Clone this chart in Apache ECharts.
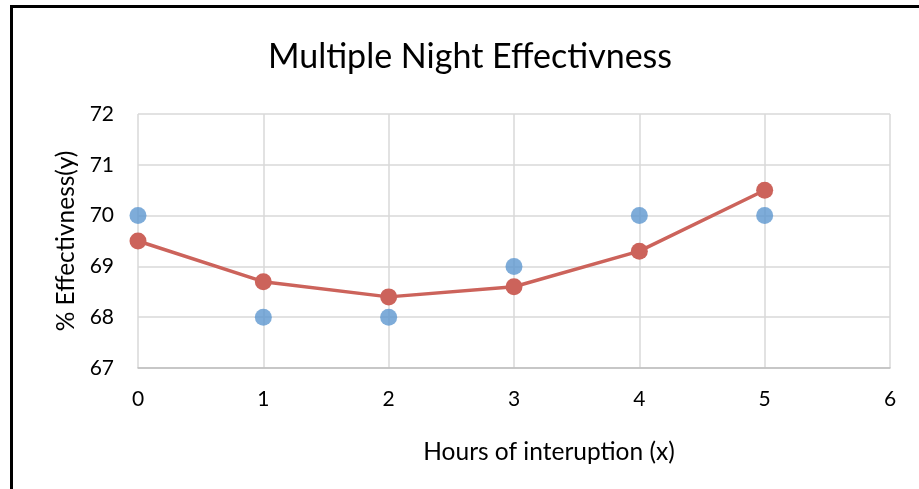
<!DOCTYPE html>
<html>
<head>
<meta charset="utf-8">
<script src="https://cdn.jsdelivr.net/npm/echarts@6/dist/echarts.min.js"></script>
<style>
  html, body { margin: 0; padding: 0; background: #fff; }
  #wrap { position: relative; width: 919px; height: 489px; overflow: hidden; }
  #chart { position: absolute; left: 0; top: 0; width: 919px; height: 489px; }
  #frame { position: absolute; left: 10px; top: 5px; width: 920px; height: 500px;
           border-left: 3px solid #000; border-top: 3px solid #000; pointer-events: none; }
</style>
</head>
<body>
<div id="wrap">
  <div id="chart"></div>
  <div id="frame"></div>
</div>
<script>
// Hours of interruption and measured / fitted effectiveness
const hours = [0, 1, 2, 3, 4, 5];
const observed = [70, 68, 68, 69, 70, 70];
const fitted = [69.5, 68.7, 68.4, 68.6, 69.3, 70.5];
const titleText = 'Multiple Night Effectivness';
const xName = 'Hours of interuption (x)';
const yName = '% Effectivness(y)';

const font = 'Lato, "Open Sans", sans-serif';
const chart = echarts.init(document.getElementById('chart'), null, { renderer: 'canvas' });

chart.setOption({
  animation: false,
  backgroundColor: 'transparent',
  title: {
    text: titleText,
    left: 465,
    textAlign: 'center',
    top: 35,
    textStyle: { fontFamily: font, fontSize: 34, fontWeight: 'normal', color: '#000' }
  },
  grid: { left: 138, right: 29, top: 114, bottom: 121 },
  xAxis: {
    type: 'value',
    min: 0, max: 6, interval: 1,
    name: xName,
    nameLocation: 'middle',
    nameGap: 72,
    nameTextStyle: { fontFamily: font, fontSize: 24.5, color: '#000', padding: [0, 0, 0, 70] },
    axisLine: { show: true, lineStyle: { color: '#bfbfbf', width: 1.5 } },
    axisTick: { show: false },
    axisLabel: { fontFamily: font, fontSize: 21, color: '#000', margin: 21 },
    splitLine: { show: true, lineStyle: { color: '#d9d9d9', width: 1.5 } }
  },
  yAxis: {
    type: 'value',
    min: 67, max: 72, interval: 1,
    name: yName,
    nameLocation: 'middle',
    nameGap: 55,
    nameRotate: 90,
    nameTextStyle: { fontFamily: font, fontSize: 24.5, color: '#000' },
    axisLine: { show: false },
    axisTick: { show: false },
    axisLabel: { fontFamily: font, fontSize: 21, color: '#000', margin: 24 },
    splitLine: { show: true, lineStyle: { color: '#d9d9d9', width: 1.5 } }
  },
  series: [
    {
      name: 'Observed',
      type: 'scatter',
      data: hours.map((h, i) => [h, observed[i]]),
      symbol: 'circle',
      symbolSize: 17,
      itemStyle: { color: '#5E97CF' },
      z: 2
    },
    {
      name: 'Fitted',
      type: 'line',
      data: hours.map((h, i) => [h, fitted[i]]),
      symbol: 'circle',
      symbolSize: 17,
      showSymbol: true,
      lineStyle: { color: '#CC635B', width: 3.5 },
      itemStyle: { color: '#CC635B' },
      z: 3
    }
  ]
});
</script>
</body>
</html>
